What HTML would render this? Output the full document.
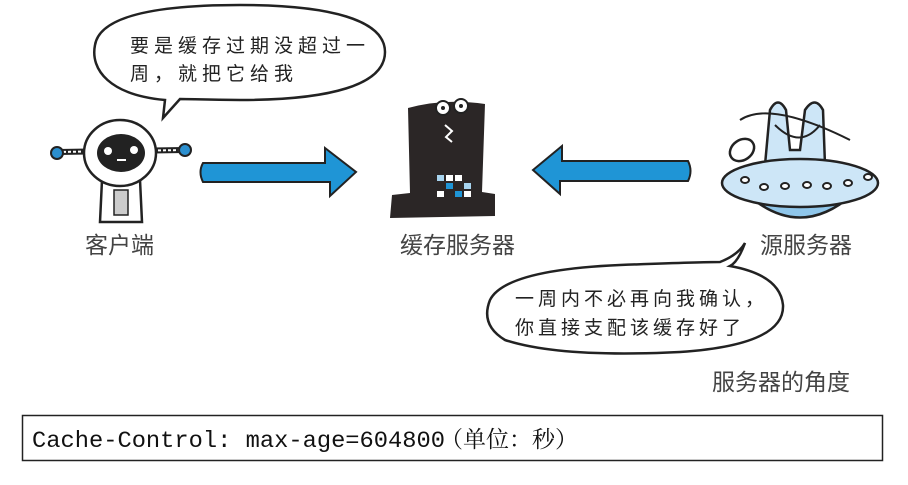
<!DOCTYPE html>
<html><head><meta charset="utf-8"><style>
body{margin:0;background:#fff;width:908px;height:480px;overflow:hidden}
svg text{font-family:"Liberation Sans","Noto Sans CJK SC",sans-serif}
</style></head><body>
<svg width="908" height="480" viewBox="0 0 908 480" xmlns="http://www.w3.org/2000/svg">
<!-- bubble 1 -->
<path d="M165,100 C110,95 90,70 95,45 C100,15 160,5 240,5 C330,5 385,20 385,52 C385,85 330,100 240,100 C210,100 190,99 180,99 L163,118 Z" fill="#fff" stroke="#222" stroke-width="2.5"/>
<text x="130" y="52" font-size="19" fill="#222" letter-spacing="5">要是缓存过期没超过一</text>
<text x="130" y="80" font-size="19" fill="#222" letter-spacing="5">周，就把它给我</text>
<!-- robot -->
<line x1="58" y1="152" x2="185" y2="150" stroke="#222" stroke-width="6"/>
<line x1="58" y1="152" x2="185" y2="150" stroke="#fff" stroke-width="2" stroke-dasharray="3 2"/>
<circle cx="57" cy="153" r="6" fill="#2b8fcf" stroke="#222" stroke-width="2"/>
<circle cx="185" cy="150" r="6" fill="#2b8fcf" stroke="#222" stroke-width="2"/>
<path d="M102,180 L100,222 L142,222 L140,180 Z" fill="#fff" stroke="#222" stroke-width="2.5"/>
<rect x="114" y="190" width="14" height="25" fill="#ccc" stroke="#222" stroke-width="1.5"/>
<ellipse cx="120" cy="153" rx="36" ry="33" fill="#fff" stroke="#222" stroke-width="2.5"/>
<ellipse cx="121" cy="153" rx="24" ry="19" fill="#222"/>
<circle cx="108" cy="151" r="4" fill="#fff"/><circle cx="134" cy="150" r="4" fill="#fff"/>
<rect x="117" y="159" width="9" height="2" fill="#fff"/>
<text x="85" y="253" font-size="23" fill="#444">客户端</text>
<!-- arrow right -->
<path d="M203,163 L325,163 L325,148 L356,172 L330,196 L330,182 L203,182 Q198,172 203,163 Z" fill="#1f95d6" stroke="#222" stroke-width="2"/>
<!-- hat -->
<path d="M408,108 Q445,98 485,104 L482,192 L495,194 L495,216 L390,218 L392,195 L410,193 Z" fill="#2b2626"/>
<circle cx="443" cy="108" r="7" fill="#fff" stroke="#222" stroke-width="2"/><circle cx="443" cy="108" r="2" fill="#222"/>
<circle cx="461" cy="106" r="7" fill="#fff" stroke="#222" stroke-width="2"/><circle cx="461" cy="106" r="2" fill="#222"/>
<path d="M445,125 L452,131 L446,137 L452,142" fill="none" stroke="#fff" stroke-width="2"/>
<g fill="#a8d4ef"><rect x="437" y="175" width="7" height="6"/><rect x="455" y="175" width="7" height="6" fill="#fff"/><rect x="446" y="183" width="7" height="6" fill="#1f95d6"/><rect x="437" y="191" width="7" height="6" fill="#fff"/><rect x="464" y="183" width="7" height="6"/><rect x="455" y="191" width="7" height="6" fill="#1f95d6"/><rect x="446" y="175" width="7" height="6" fill="#fff"/><rect x="464" y="191" width="7" height="6" fill="#fff"/></g>
<text x="400" y="253" font-size="23" fill="#444">缓存服务器</text>
<!-- arrow left -->
<path d="M688,161 L562,161 L562,146 L533,170 L560,194 L560,181 L688,181 Q693,171 688,161 Z" fill="#1f95d6" stroke="#222" stroke-width="2"/>
<!-- UFO -->
<path d="M765,165 L770,110 Q778,95 786,110 L790,150 L800,150 L805,110 Q815,95 823,110 L825,165 Z" fill="#cde6f7" stroke="#222" stroke-width="2.5"/>
<path d="M775,125 Q800,150 820,125 M740,120 Q770,100 850,140" fill="none" stroke="#222" stroke-width="2"/>
<ellipse cx="742" cy="150" rx="13" ry="10" fill="#fff" stroke="#222" stroke-width="2.5" transform="rotate(-35 742 150)"/>
<path d="M748,195 Q800,240 852,195 Z" fill="#8fc6ea" stroke="#222" stroke-width="2.5"/>
<ellipse cx="800" cy="183" rx="78" ry="24" fill="#cde6f7" stroke="#222" stroke-width="2.5"/>
<g fill="#fff" stroke="#222" stroke-width="2"><ellipse cx="745" cy="180" rx="4" ry="3"/><ellipse cx="764" cy="187" rx="4" ry="3"/><ellipse cx="785" cy="186" rx="4" ry="3"/><ellipse cx="807" cy="185" rx="4" ry="3"/><ellipse cx="827" cy="186" rx="4" ry="3"/><ellipse cx="848" cy="183" rx="4" ry="3"/><ellipse cx="868" cy="177" rx="4" ry="3"/></g>
<text x="760" y="253" font-size="23" fill="#444">源服务器</text>
<!-- bubble 2 -->
<path d="M730,266 Q780,275 783,305 Q785,345 680,352 Q560,358 505,340 Q480,325 490,300 Q505,270 620,265 Q700,262 720,262 Q738,255 745,243 Q738,262 730,266 Z" fill="#fff" stroke="#222" stroke-width="2.5"/>
<text x="515" y="305" font-size="19" fill="#222" letter-spacing="4">一周内不必再向我确认，</text>
<text x="515" y="334" font-size="19" fill="#222" letter-spacing="4">你直接支配该缓存好了</text>
<text x="712" y="390" font-size="23" fill="#444">服务器的角度</text>
<!-- code box -->
<rect x="22.5" y="415.5" width="860" height="45" fill="#fff" stroke="#222" stroke-width="1.5"/>
<text x="32" y="447" font-size="23" fill="#111" textLength="413" lengthAdjust="spacingAndGlyphs" style='font-family:"Liberation Mono",monospace'>Cache-Control: max-age=604800</text>
<text x="440" y="447" font-size="23" fill="#111" style='font-family:"Liberation Serif","Noto Serif CJK SC",serif'>（单位：秒）</text>
</svg>
</body></html>
